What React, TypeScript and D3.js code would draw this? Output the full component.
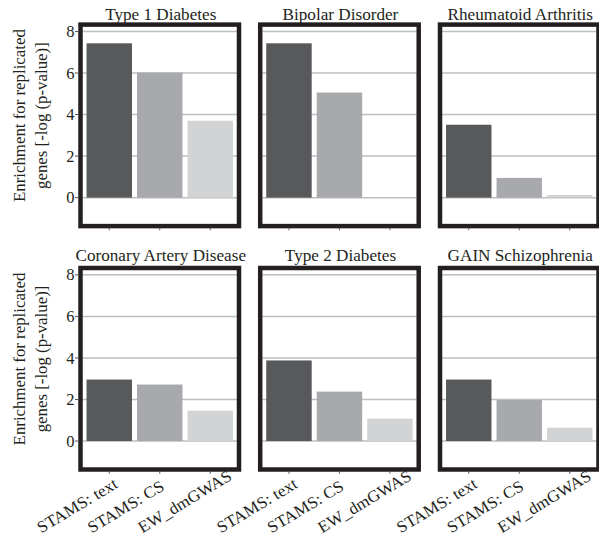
import React from "react";
import * as d3 from "d3";

const panelTitles = [
  "Type 1 Diabetes",
  "Bipolar Disorder",
  "Rheumatoid Arthritis",
  "Coronary Artery Disease",
  "Type 2 Diabetes",
  "GAIN Schizophrenia",
];
const categories = ["STAMS: text", "STAMS: CS", "EW_dmGWAS"];
const stamsText = [7.43, 7.43, 3.51, 2.96, 3.88, 2.96];
const stamsCS = [6.02, 5.06, 0.95, 2.72, 2.38, 1.98];
const ewDmGWAS = [3.7, 0, 0.13, 1.46, 1.08, 0.64];
const yTicks = [0, 2, 4, 6, 8];
const barColors = ["#58595b", "#a7a9ac", "#d1d3d4"];

const W = 599;
const H = 543;
const colX = [80.5, 260.2, 440];
const rowY = [24.6, 268];
const PW = 158.5;
const PH = 201.5;
const FONT = "Liberation Serif, Times New Roman, Times, serif";
const SX = 1.04;
const textStyle = { fontFamily: FONT };

export default function App() {
  const series = [stamsText, stamsCS, ewDmGWAS];
  return (
    <svg
      width={W}
      height={H}
      style={{ position: "absolute", left: 0, top: 0, background: "#fff", fontFamily: FONT }}
    >
      {panelTitles.map((title, i) => {
        const col = i % 3;
        const row = Math.floor(i / 3);
        const x0 = colX[col];
        const y0 = rowY[row];
        const y = d3.scaleLinear().domain([-1.37, 8.33]).range([y0 + PH, y0]);
        const x = d3
          .scaleBand<string>()
          .domain(categories)
          .range([x0 + 2, x0 + PW - 2])
          .paddingInner(0.1)
          .paddingOuter(0.08);
        const vals = series.map((s) => s[i]);
        return (
          <g key={title}>
            {yTicks.map((t) => (
              <line
                key={t}
                x1={x0 + 2}
                x2={x0 + PW - 2}
                y1={y(t)}
                y2={y(t)}
                stroke="#bcbec0"
                strokeWidth={1.5}
              />
            ))}
            {categories.map((c, k) => (
              <rect
                key={c}
                x={x(c)}
                width={x.bandwidth()}
                y={y(Math.max(0, vals[k]))}
                height={Math.abs(y(vals[k]) - y(0))}
                fill={barColors[k]}
              />
            ))}
            <rect
              x={x0}
              y={y0}
              width={PW}
              height={PH}
              fill="none"
              stroke="#231f20"
              strokeWidth={4.5}
            />
            <text
              style={textStyle}
              transform={`translate(${x0 + PW / 2 + 1},${row === 0 ? 20 : 261}) scale(${SX},1)`}
              textAnchor="middle"
              fontSize={16.5}
              fill="#231f20"
            >
              {title}
            </text>
            {categories.map((c) => {
              const tx = (x(c) as number) + x.bandwidth() / 2;
              const by = y0 + PH;
              return (
                <g key={c}>
                  <line x1={tx} x2={tx} y1={by + 2.2} y2={by + 4.2} stroke="#555" strokeWidth={1} />
                  {row === 1 && (
                    <text
                      style={textStyle}
                      transform={`translate(${tx - 68},${by + 64}) rotate(-31) scale(1.04,1)`}
                      textAnchor="start"
                      fontSize={16.5}
                      fill="#231f20"
                    >
                      {c}
                    </text>
                  )}
                </g>
              );
            })}
            {col === 0 && (
              <g>
                {yTicks.map((t) => (
                  <g key={t}>
                    <line x1={x0 - 5.5} x2={x0 - 2.2} y1={y(t)} y2={y(t)} stroke="#555" strokeWidth={1} />
                    <text
                      style={textStyle}
                      x={x0 - 6}
                      y={y(t)}
                      dy="0.34em"
                      textAnchor="end"
                      fontSize={16.5}
                      fill="#231f20"
                    >
                      {t}
                    </text>
                  </g>
                ))}
                <text
                  style={textStyle}
                  transform={`translate(25,${y(3.95)}) rotate(-90) scale(1.02,1)`}
                  textAnchor="middle"
                  fontSize={16.5}
                  fill="#231f20"
                >
                  Enrichment for replicated
                </text>
                <text
                  style={textStyle}
                  transform={`translate(46.5,${y(3.95)}) rotate(-90) scale(1.02,1)`}
                  textAnchor="middle"
                  fontSize={16.5}
                  fill="#231f20"
                >
                  genes [-log (p-value)]
                </text>
              </g>
            )}
          </g>
        );
      })}
    </svg>
  );
}
